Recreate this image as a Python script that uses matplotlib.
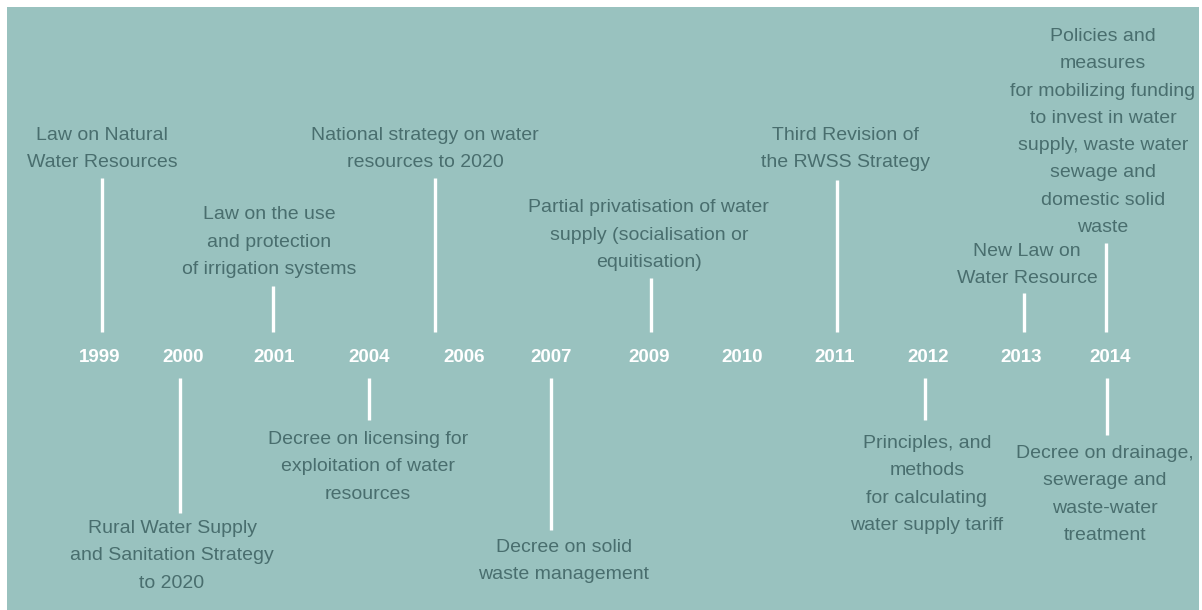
import matplotlib
matplotlib.use("Agg")
import matplotlib.pyplot as plt
from matplotlib.patches import Rectangle

# ---- data ----
years = ["1999", "2000", "2001", "2004", "2006", "2007", "2009", "2010", "2011", "2012", "2013", "2014"]

events_above = [
    ("1999", "Law on Natural\nWater Resources"),
    ("2001", "Law on the use\nand protection\nof irrigation systems"),
    ("2006", "National strategy on water\nresources to 2020"),
    ("2009", "Partial privatisation of water\nsupply (socialisation or\nequitisation)"),
    ("2011", "Third Revision of\nthe RWSS Strategy"),
    ("2013", "New Law on\nWater Resource"),
    ("2014", "Policies and\nmeasures\nfor mobilizing funding\nto invest in water\nsupply, waste water\nsewage and\ndomestic solid\nwaste"),
]
events_below = [
    ("2000", "Rural Water Supply\nand Sanitation Strategy\nto 2020"),
    ("2004", "Decree on licensing for\nexploitation of water\nresources"),
    ("2007", "Decree on solid\nwaste management"),
    ("2012", "Principles, and\nmethods\nfor calculating\nwater supply tariff"),
    ("2014", "Decree on drainage,\nsewerage and\nwaste-water\ntreatment"),
]

# ---- layout (vertical in pixels from top, horizontal offsets in pixels) ----
PX_PER_STEP = 91.82
year_dx = [0, -9, -10, -6, -3, -8, -2, -1, 0, 2, 3, 0]
above_line_top = [178, 286, 178, 278, 180, 293, 243]
above_line_dx = [2, -10.6, -32.3, 0, 2.5, 5.8, -4]
above_text_bottom = [171, 278, 171, 271, 171, 287, 236]
above_text_dx = [2, -14.6, -42.3, -2, 10.5, 8.8, -7]
below_line_bottom = [513, 420, 530, 420, 435]
below_line_dx = [-11.8, -6.5, -8.1, -1.4, -3]
below_text_top = [520, 431, 539, 435, 445]
below_text_dx = [-19.8, -7.5, 4.9, 0.6, -5]

BG = "#99c2bf"
TXT = "#496e6e"
FONT = ["Liberation Sans", "DejaVu Sans"]
LS = 1.79

fig = plt.figure(figsize=(12.02, 6.10), dpi=100)
ax = fig.add_axes([0, 0, 1, 1])
ax.set_xlim(-100 / PX_PER_STEP, (1202 - 100) / PX_PER_STEP)
ax.set_ylim(610, 0)
ax.axis("off")

idx = {y: i for i, y in enumerate(years)}
px = lambda v: v / PX_PER_STEP

# background panel
x0 = ax.get_xlim()[0]
ax.add_patch(Rectangle((x0 + px(7), 7), px(1192), 603, facecolor=BG, edgecolor="none", zorder=0))

# year labels
for y, d in zip(years, year_dx):
    ax.text(idx[y] + px(d), 358, y, ha="center", va="center", color="white",
            fontsize=13.5, fontweight="bold", family=FONT, zorder=3)

# events above
for (y, label), top, ldx, tb, tdx in zip(events_above, above_line_top, above_line_dx,
                                         above_text_bottom, above_text_dx):
    xi = idx[y]
    ax.plot([xi + px(ldx)] * 2, [top, 332], color="white", lw=2.4, solid_capstyle="butt", zorder=2)
    ax.text(xi + px(tdx), tb, label, ha="center", va="bottom", color=TXT,
            fontsize=14, family=FONT, linespacing=LS, zorder=3)

# events below
for (y, label), bot, ldx, tt, tdx in zip(events_below, below_line_bottom, below_line_dx,
                                         below_text_top, below_text_dx):
    xi = idx[y]
    ax.plot([xi + px(ldx)] * 2, [378, bot], color="white", lw=2.4, solid_capstyle="butt", zorder=2)
    ax.text(xi + px(tdx), tt, label, ha="center", va="top", color=TXT,
            fontsize=14, family=FONT, linespacing=LS, zorder=3)

fig.savefig("out.png", dpi=100, facecolor="white")
